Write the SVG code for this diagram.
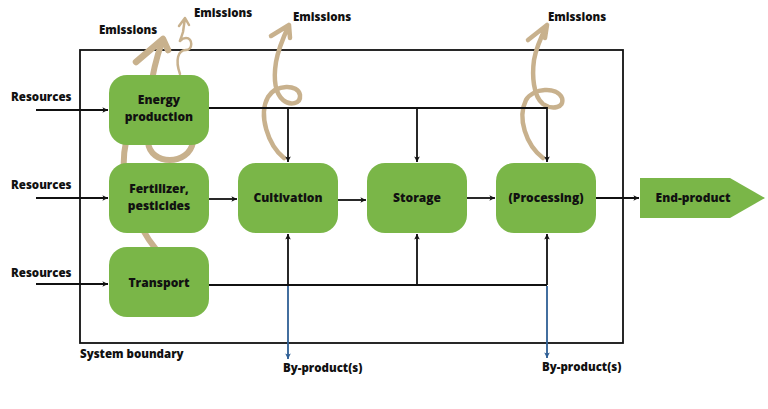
<svg xmlns="http://www.w3.org/2000/svg" width="768" height="409" viewBox="0 0 768 409">
<defs>
<marker id="ah" viewBox="0 0 10 10" refX="9" refY="5" markerWidth="7" markerHeight="7" orient="auto" markerUnits="userSpaceOnUse">
<path d="M1,1 L9,5 L1,9 L3,5 Z" fill="#111"/>
</marker>
<marker id="ahb" viewBox="0 0 10 10" refX="9" refY="5" markerWidth="7" markerHeight="7" orient="auto" markerUnits="userSpaceOnUse">
<path d="M1,1 L9,5 L1,9 L3,5 Z" fill="#2e5f95"/>
</marker>
<style>
.node{fill:#7ab648;}
.t{font-family:"Open Sans","DejaVu Sans",sans-serif;font-weight:800;font-size:11.5px;fill:#111;}
.nt{text-anchor:middle;font-size:12px;}
.c{stroke:#111;stroke-width:1.8;fill:none;}
.cb{stroke:#2e5f95;stroke-width:1.8;fill:none;}
.em{stroke:#c8b18d;fill:none;stroke-linecap:round;stroke-linejoin:round;}
</style>
</defs>
<rect width="768" height="409" fill="#fff"/>

<!-- system boundary -->
<rect id="boundary" x="80" y="50" width="543" height="293" fill="none" stroke="#111" stroke-width="1.8"/>

<!-- emissions curves (behind nodes) -->
<g id="emissions-curves">
<path class="em" stroke-width="6" d="M158,252 C132,220 118,178 126,142 C134,108 198,110 193,142 C189,166 150,166 148,142 C146,115 150,75 162,42"/>
<path class="em" stroke-width="6.5" d="M136,62 L163,39 L168,50"/>
<path class="em" stroke-width="2.5" d="M180,74 C175,60 178,50 186,50 C193,50 193,38 186,38 C179,38 178,48 183,32 L185,18 M179,26 L185,18 L189,25"/>
<path class="em" stroke-width="4.5" d="M284,158 C268,145 258,115 268,97 C276,84 298,84 300,95 C301,104 290,106 283,100 C274,92 274,75 276,62 C278,50 283,38 289,25 M271,36 L289,25 L290,38"/>
<path class="em" stroke-width="4.5" d="M543,158 C526,145 517,118 526,100 C533,88 557,86 562,98 C565,108 552,110 543,104 C533,96 532,75 534,60 C536,48 541,37 547,25 M528,40 L547,25 L545,38"/>
</g>

<!-- connectors -->
<g id="connectors">
<line class="c" x1="36" y1="110" x2="108" y2="110" marker-end="url(#ah)"/>
<line class="c" x1="36" y1="198" x2="108" y2="198" marker-end="url(#ah)"/>
<line class="c" x1="36" y1="284" x2="108" y2="284" marker-end="url(#ah)"/>
<polyline class="c" points="209,108 547,108 547,162" marker-end="url(#ah)"/>
<line class="c" x1="288" y1="108" x2="288" y2="162" marker-end="url(#ah)"/>
<line class="c" x1="417" y1="108" x2="417" y2="162" marker-end="url(#ah)"/>
<line class="c" x1="209" y1="199" x2="237" y2="199" marker-end="url(#ah)"/>
<line class="c" x1="338" y1="200" x2="366" y2="200" marker-end="url(#ah)"/>
<line class="c" x1="467" y1="198" x2="495" y2="198" marker-end="url(#ah)"/>
<line class="c" x1="596" y1="198" x2="639" y2="198" marker-end="url(#ah)"/>
<line class="c" x1="209" y1="285" x2="547" y2="285"/>
<line class="c" x1="288" y1="285" x2="288" y2="234" marker-end="url(#ah)"/>
<line class="c" x1="417" y1="285" x2="417" y2="234" marker-end="url(#ah)"/>
<line class="c" x1="547" y1="285" x2="547" y2="234" marker-end="url(#ah)"/>
<line class="cb" x1="288" y1="286" x2="288" y2="359" marker-end="url(#ahb)"/>
<line class="cb" x1="547" y1="286" x2="547" y2="358" marker-end="url(#ahb)"/>
</g>

<g id="energy">
<rect class="node" x="109" y="75" width="100" height="70" rx="18"/>
<text class="t nt" x="159" y="104">Energy</text>
<text class="t nt" x="159" y="121">production</text>
</g>
<g id="fertilizer">
<rect class="node" x="109" y="163" width="100" height="70" rx="18"/>
<text class="t nt" x="159" y="193">Fertilizer,</text>
<text class="t nt" x="159" y="210">pesticides</text>
</g>
<g id="transport">
<rect class="node" x="109" y="247" width="100" height="70" rx="18"/>
<text class="t nt" x="159" y="287">Transport</text>
</g>
<g id="cultivation">
<rect class="node" x="238" y="163" width="100" height="70" rx="18"/>
<text class="t nt" x="288" y="202">Cultivation</text>
</g>
<g id="storage">
<rect class="node" x="367" y="163" width="100" height="70" rx="18"/>
<text class="t nt" x="417" y="202">Storage</text>
</g>
<g id="processing">
<rect class="node" x="496" y="163" width="100" height="70" rx="18"/>
<text class="t nt" x="546" y="202">(Processing)</text>
</g>
<g id="end-product">
<polygon class="node" points="640,178 730,178 765,198 730,218 640,218"/>
<text class="t nt" x="693" y="202">End-product</text>
</g>

<g id="labels">
<text class="t" x="11" y="101">Resources</text>
<text class="t" x="11" y="189">Resources</text>
<text class="t" x="11" y="277">Resources</text>
<text class="t" x="99" y="34">Emissions</text>
<text class="t" x="194" y="17">Emissions</text>
<text class="t" x="293" y="21">Emissions</text>
<text class="t" x="548" y="21">Emissions</text>
<text class="t" x="80" y="358">System boundary</text>
<text class="t" x="283" y="372">By-product(s)</text>
<text class="t" x="542" y="371">By-product(s)</text>
</g>
</svg>
